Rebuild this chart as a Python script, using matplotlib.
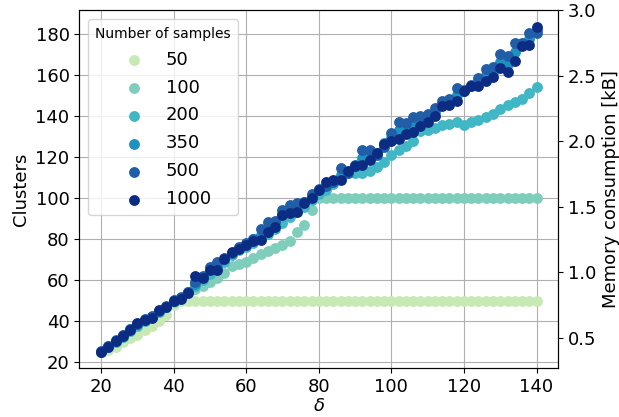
import matplotlib

matplotlib.use("Agg")
import matplotlib.pyplot as plt
import numpy as np

# delta values 20..140 in steps of 2
delta = list(range(20, 141, 2))

samples = ["50", "100", "200", "350", "500", "1000"]
colors = ["#c7e9b4", "#7fcdbb", "#41b6c4", "#1d91c0", "#225ea8", "#0c2c84"]

clusters_50 = [25, 26, 27.5, 30, 32, 33.5, 35.5, 37.5, 40, 43,
               48] + [50] * 50

clusters_100 = [25, 27.5, 30, 32.5, 35, 37.5, 40, 42, 44.5, 47,
                49.5, 51, 53.5, 55.5, 57, 59, 61, 63.5, 67, 68,
                69, 71, 72.5, 74, 75.5, 77, 79, 83.5, 87, 94] + [100] * 31

clusters_200 = [25, 27.5, 30, 32.5, 35, 37.5, 40, 42, 44.5, 47,
                50, 51.5, 54, 57, 60, 63, 65, 69, 72, 74.5,
                76, 78, 80, 82.5, 85, 88, 91, 93, 95.5, 99,
                102, 104, 107, 110, 112, 112, 112, 113, 115, 117.5,
                121, 123.5, 125.5, 128, 132.5, 133, 134, 135.5, 136, 137,
                135.5, 137, 138, 139.5, 141, 143.5, 145.5, 147, 148.5, 151,
                154]

clusters_350 = [25, 28, 30.5, 33.5, 36, 38.5, 40.5, 42, 45, 47,
                50, 51.5, 54, 58, 61.5, 65, 67, 70.5, 73, 75.5,
                77.5, 80, 82, 86, 88, 92, 94, 95.5, 98, 101,
                104, 106.5, 108.5, 111, 112.5, 115.5, 119.5, 121, 122, 127,
                129.5, 133, 134, 136, 137.5, 139.5, 142, 146, 147, 150,
                152, 154.5, 156.5, 160, 161.5, 166.5, 165.5, 171, 175, 177.5,
                182]

clusters_500 = [25.5, 28, 31, 33.5, 36, 38.5, 41, 42.5, 45, 47.5,
                50.5, 52, 54, 59, 62, 66.5, 69, 71, 73, 76,
                78, 80, 85, 88.5, 89, 94, 96.5, 97.5, 98, 102,
                104.5, 106, 108, 114.5, 112, 116, 123.5, 123.5, 121, 125,
                131.5, 137, 136.5, 139.5, 140, 141, 144, 147.5, 148.5, 153.5,
                152.5, 155, 158.5, 163, 164, 170, 169, 175.5, 175.5, 180.5,
                180.5]

clusters_1000 = [25, 27.5, 30.5, 33, 35.5, 39, 40.5, 41.5, 45.5, 47,
                 50, 51, 53.5, 62, 61, 65, 65, 70.5, 73.5, 75,
                 77, 79, 79.5, 83.5, 86, 91.5, 92.5, 93, 97.5, 100,
                 104, 108, 109, 109, 113, 115.5, 116, 118.5, 122, 126.5,
                 128, 129, 131, 132, 135, 137, 140, 145, 145.5, 147.5,
                 152, 154.5, 154.5, 157, 159, 163.5, 161.5, 167, 174, 174.5,
                 183.5]

series = [clusters_50, clusters_100, clusters_200,
          clusters_350, clusters_500, clusters_1000]

BYTES_PER_CLUSTER = 16

fig, ax = plt.subplots(figsize=(6.19, 4.17), dpi=100)
fig.subplots_adjust(left=0.128, right=0.902, top=0.975, bottom=0.117)

for label, color, values in zip(samples, colors, series):
    ax.scatter(delta, values, color=color, s=46, label=label, zorder=3)

ax.set_xlabel(r"$\delta$", fontsize=13, labelpad=1)
ax.set_ylabel("Clusters", fontsize=13)
ax.tick_params(labelsize=13)
ax.grid(True)
ax.set_axisbelow(True)

ax.legend(title="Number of samples", loc="upper left", fontsize=13,
          title_fontsize=10, labelspacing=0.55)

# right axis: memory used by the clusters
ax2 = ax.twinx()
lo, hi = ax.get_ylim()
ax2.set_ylim(lo * BYTES_PER_CLUSTER / 1024, hi * BYTES_PER_CLUSTER / 1024)
ax2.set_yticks(np.arange(0.5, 3.01, 0.5))
ax2.set_ylabel("Memory consumption [kB]", fontsize=13)
ax2.tick_params(labelsize=13)

plt.savefig("out.png")
plt.close(fig)
